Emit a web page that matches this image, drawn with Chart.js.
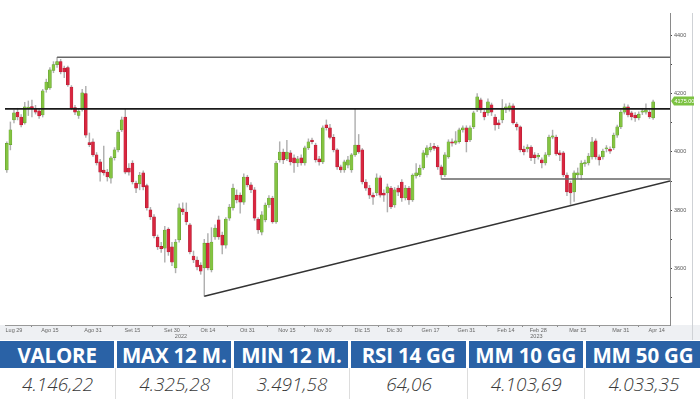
<!DOCTYPE html>
<html>
<head>
<meta charset="utf-8">
<script src="https://cdn.jsdelivr.net/npm/chart.js@4.4.0/dist/chart.umd.min.js"></script>
<style>
  body { margin: 0; background: #fff; width: 700px; height: 400px; overflow: hidden; }
  .chart-box { position: relative; width: 700px; height: 340px; }
  .stats { display: grid; grid-template-columns: repeat(6, 1fr); column-gap: 3px; width: 700px; }
  .stats .head { background: #2a62a6; color: #fff; font: 700 20.5px 'Open Sans', sans-serif; text-align: center;
                 height: 27px; line-height: 28px; margin-top: 1px; white-space: nowrap; letter-spacing: -0.2px; }
  .stats .val { color: #3a3a3a; font: italic 300 19px 'Open Sans', sans-serif; text-align: center; height: 31px; line-height: 33px;
                border-right: 1px solid #ddd; margin-right: -2px; }
  .stats .val:last-child { border-right: none; }
</style>
</head>
<body>
<div class="chart-box"><canvas id="ftseChart" width="700" height="340"></canvas></div>
<div class="stats" id="stats"></div>

<script>
// daily candles, 28 Jul 2022 -> 14 Apr 2023 (trading days)
const opens = [
  3938,4025,4110,4137,4120,4100,4150,4156,4150,4141, 4127,4215,4220,4280,4300,4310,4288,4290,4223,4152,
  4125,4145,4200,4032,4035,3990,3966,3938,3931,3910, 3980,4007,4076,4120,3945,3962,3893,3890,3928,3885,
  3801,3777,3708,3676,3670,3735,3674,3602,3698,3805, 3794,3750,3643,3629,3612,3602,3687,3595,3708,3767,
  3715,3680,3773,3808,3852,3852,3828,3914,3887,3870, 3770,3725,3767,3818,3842,3760,3973,4000,3976,3997,
  3980,3962,3980,3962,4014,4041,4024,3976,3966,4093, 4083,4050,4007,3949,3938,3955,3938,3990,4024,4007,
  3897,3876,3852,3859,3911,3859,3859,3876,3818,3876, 3897,3842,3876,3835,3918,3921,3945,3990,4007,4019,
  4017,3949,3921,3983,4035,4030,4035,4076,4083,4041, 4086,4144,4179,4137,4134,4162,4120,4100,4110,4150,
  4151,4158,4096,4086,4010,4010,4017,3990,3983,3973, 3962,3990,4051,4051,3997,3997,3921,3893,3863,3921,
  3921,3959,3962,3983,4038,3983,3983,4010,4010,4014, 4058,4086,4137,4155,4134,4127,4117,4137,4137,4137,
  4117
];
const closes = [
  4030,4076,4134,4120,4093,4155,4152,4148,4137,4124, 4210,4240,4282,4300,4310,4275,4275,4230,4150,4137,
  4140,4203,4058,4025,3990,3962,3931,3928,3914,3980, 4007,4068,4110,3931,3931,3897,3876,3921,3880,3808,
  3777,3712,3674,3668,3732,3657,3622,3691,3808,3794, 3760,3657,3629,3605,3591,3687,3602,3691,3739,3708,
  3680,3770,3811,3876,3835,3828,3914,3887,3870,3773, 3732,3784,3818,3842,3760,3962,4000,3973,4000,3966,
  3962,3976,3962,4014,4035,4035,3973,3966,4083,4083, 4050,4007,3949,3938,3966,3973,3990,4024,4000,3897,
  3876,3852,3845,3911,3852,3852,3880,3811,3870,3862, 3842,3876,3835,3921,3928,3945,3997,4014,4017,4012,
  3949,3921,3990,4035,4030,4038,4076,4083,4035,4083, 4134,4189,4144,4120,4172,4137,4093,4093,4151,4155,
  4158,4100,4086,4007,4000,4017,3980,3980,3988,3962, 3990,4051,4055,3993,3990,3921,3863,3859,3928,3928,
  3962,3962,3986,4035,3983,3973,4003,4014,4003,4058, 4086,4137,4155,4127,4120,4117,4130,4141,4144,4120,
  4172
];
const highs = [
  4035,4103,4144,4150,4128,4170,4175,4178,4160,4150, 4215,4250,4290,4310,4325,4318,4295,4295,4228,4160,
  4148,4215,4225,4065,4045,3998,3975,4020,3940,3985, 4015,4075,4120,4148,3960,3970,3900,3930,3935,3890,
  3810,3785,3715,3690,3745,3740,3690,3700,3822,3825, 3825,3755,3660,3640,3620,3700,3720,3740,3750,3780,
  3725,3775,3820,3890,3870,3860,3925,3920,3895,3878, 3775,3795,3825,3850,3848,3968,4035,4010,4040,4005,
  3990,3985,3990,4020,4045,4048,4030,3985,4090,4110, 4095,4060,4012,3955,3972,3985,3995,4148,4060,4012,
  3905,3885,3860,3925,3918,3870,3890,3882,3878,3885, 3905,3885,3882,3925,3960,3955,4005,4022,4030,4030,
  4022,3955,3998,4042,4045,4070,4082,4090,4090,4090, 4140,4200,4185,4145,4182,4168,4128,4110,4180,4165,
  4168,4165,4102,4090,4020,4025,4022,3998,3995,3980, 3998,4058,4075,4058,4005,4002,3928,3900,3935,3945,
  3970,3972,3995,4050,4045,3990,4010,4022,4018,4065, 4092,4145,4165,4162,4140,4135,4138,4150,4165,4145,
  4178
];
const lows = [
  3930,4007,4100,4110,4086,4095,4125,4120,4130,4115, 4120,4205,4215,4272,4290,4268,4255,4225,4145,4128,
  4115,4140,4050,4018,3985,3955,3900,3920,3900,3893, 3972,4000,4070,3925,3920,3890,3860,3870,3870,3800,
  3768,3705,3665,3655,3622,3645,3610,3585,3690,3785, 3750,3650,3620,3595,3580,3505,3595,3588,3700,3700,
  3650,3670,3765,3800,3825,3790,3820,3880,3860,3765, 3720,3715,3760,3810,3755,3755,3965,3960,3970,3955,
  3930,3950,3955,3955,4008,4028,3965,3955,3960,4075, 4045,4000,3940,3930,3930,3945,3930,3985,3995,3890,
  3868,3840,3820,3850,3845,3830,3794,3805,3810,3850, 3830,3835,3820,3830,3910,3915,3940,3982,4000,4005,
  3940,3907,3915,3978,4020,4025,4030,4068,4000,4035, 4080,4138,4135,4110,4125,4125,4075,4080,4100,4135,
  4140,4095,4075,4000,3990,4000,3970,3960,3975,3945, 3955,3985,4045,3988,3970,3915,3850,3820,3830,3910,
  3905,3950,3955,3975,3975,3955,3975,4000,3995,4008, 4050,4080,4130,4120,4110,4105,4110,4128,4130,4115,
  4112
];

// x-axis labels (trading-day index) and year marks
const tickIdx  = [2, 12, 24, 35, 46, 56, 67, 78, 88, 99, 108, 118, 128, 139, 148, 159, 171, 181];
const tickText = ['Lug 29','Ago 15','Ago 31','Set 15','Set 30','Ott 14','Ott 31','Nov 15','Nov 30',
                  'Dic 15','Dic 30','Gen 17','Gen 31','Feb 14','Feb 28','Mar 15','Mar 31','Apr 14'];
const yearIdx  = [48.5, 147.5];
const yearText = ['2022', '2023'];
const yTicks   = [3500, 3600, 3700, 3800, 3900, 4000, 4100, 4200, 4300, 4400];

// levels drawn on the chart
const max12 = 4325.28;
const resistLevel = 4148;
const supportLevel = 3907;
const trendEnd = 3900;
const lastPrice = 4175.00;

// table under the chart
const statHeads = ['VALORE', 'MAX 12 M.', 'MIN 12 M.', 'RSI 14 GG', 'MM 10 GG', 'MM 50 GG'];
const statVals  = ['4.146,22', '4.325,28', '3.491,58', '64,06', '4.103,69', '4.033,35'];

const xMin = -0.5, xMax = 184.7;

const GREEN = '#84c441', GREEN_B = '#5a952b';
const RED = '#d9263f', RED_B = '#a81b31';

const wicks = lows.map((l, i) => ({ x: i, y: [l, highs[i]] }));
const bodies = opens.map((o, i) => ({ x: i, y: [o, closes[i]] }));
const bodyColors = opens.map((o, i) => closes[i] >= o ? GREEN : RED);
const bodyBorders = opens.map((o, i) => closes[i] >= o ? GREEN_B : RED_B);

const iMax = highs.indexOf(Math.max(...highs));
const iMin = lows.indexOf(Math.min(...lows));
const iSupport = lows.indexOf(supportLevel);

const extras = {
  id: 'extras',
  beforeDraw(chart) {
    const { ctx, chartArea: a } = chart;
    ctx.save();
    ctx.fillStyle = '#eef0f3';
    ctx.fillRect(0, a.bottom, chart.width, chart.height - a.bottom);
    ctx.restore();
  },
  afterDraw(chart) {
    const { ctx, chartArea: a, scales } = chart;
    ctx.save();
    // right panel border
    ctx.strokeStyle = '#cfd2d6';
    ctx.lineWidth = 1;
    ctx.beginPath();
    ctx.moveTo(a.right + 22.5, a.top);
    ctx.lineTo(a.right + 22.5, chart.height);
    ctx.stroke();
    // years
    ctx.fillStyle = '#666';
    ctx.font = '5.5px "Liberation Sans", Arial, sans-serif';
    ctx.textAlign = 'center';
    ctx.textBaseline = 'middle';
    yearText.forEach((t, i) => ctx.fillText(t, scales.x.getPixelForValue(yearIdx[i]), a.bottom + 11));
    // last price tag
    const py = scales.y.getPixelForValue(lastPrice);
    ctx.fillStyle = '#7cc242';
    ctx.beginPath();
    ctx.moveTo(a.right + 1, py);
    ctx.lineTo(a.right + 4, py - 4.5);
    ctx.lineTo(a.right + 24, py - 4.5);
    ctx.lineTo(a.right + 24, py + 4.5);
    ctx.lineTo(a.right + 4, py + 4.5);
    ctx.closePath();
    ctx.fill();
    ctx.fillStyle = '#fff';
    ctx.font = '5.5px "Liberation Sans", Arial, sans-serif';
    ctx.textAlign = 'left';
    ctx.fillText(lastPrice.toFixed(2), a.right + 4.5, py + 0.5);
    ctx.restore();
  }
};

new Chart('ftseChart', {
  type: 'bar',
  data: {
    datasets: [
      { type: 'line', data: [{ x: xMin, y: resistLevel }, { x: xMax, y: resistLevel }],
        borderColor: '#1a1a1a', borderWidth: 1.6, pointRadius: 0, order: 0 },
      { type: 'line', data: [{ x: iMax, y: max12 }, { x: xMax, y: max12 }],
        borderColor: '#666', borderWidth: 1.5, pointRadius: 0, order: 0 },
      { type: 'line', data: [{ x: iSupport, y: supportLevel }, { x: xMax, y: supportLevel }],
        borderColor: '#666', borderWidth: 1.5, pointRadius: 0, order: 0 },
      { type: 'line', data: [{ x: iMin, y: lows[iMin] }, { x: xMax, y: trendEnd }],
        borderColor: '#333', borderWidth: 1.5, pointRadius: 0, order: 0 },
      { data: bodies, backgroundColor: bodyColors, borderColor: bodyBorders, borderWidth: 0.5,
        borderSkipped: false, barThickness: 3, minBarLength: 1.2, grouped: false, order: 1 },
      { data: wicks, backgroundColor: '#b0b0b0', barThickness: 0.8, grouped: false, order: 2 }
    ]
  },
  options: {
    responsive: false,
    animation: false,
    layout: { padding: { left: 5, top: 13, right: 0, bottom: 0 } },
    plugins: { legend: { display: false }, tooltip: { enabled: false } },
    scales: {
      x: {
        type: 'linear', min: xMin, max: xMax, offset: false,
        afterBuildTicks: s => { s.ticks = tickIdx.map(v => ({ value: v })); },
        afterFit: s => { s.height = 15; },
        ticks: { autoSkip: false, maxRotation: 0, padding: 0, color: '#666',
                 font: { size: 5.5, family: '"Liberation Sans", Arial, sans-serif' },
                 callback: (v, i) => tickText[i] },
        grid: { drawOnChartArea: false, tickLength: 2, color: '#888' },
        border: { color: '#999' }
      },
      y: {
        position: 'right', min: 3406, max: 4477,
        afterBuildTicks: s => { s.ticks = yTicks.map(v => ({ value: v })); },
        afterFit: s => { s.width = 30; },
        ticks: { padding: 2, color: '#555',
                 font: { size: 5.5, family: '"Liberation Sans", Arial, sans-serif' },
                 callback: v => (v % 200 === 0 ? v : '') },
        grid: { drawOnChartArea: false, tickLength: 2, color: '#444' },
        border: { color: '#8a8a8a' }
      }
    }
  },
  plugins: [extras]
});

const stats = document.getElementById('stats');
statHeads.forEach(h => { const d = document.createElement('div'); d.className = 'head'; d.textContent = h; stats.appendChild(d); });
statVals.forEach(v => { const d = document.createElement('div'); d.className = 'val'; d.textContent = v; stats.appendChild(d); });
</script>
</body>
</html>
